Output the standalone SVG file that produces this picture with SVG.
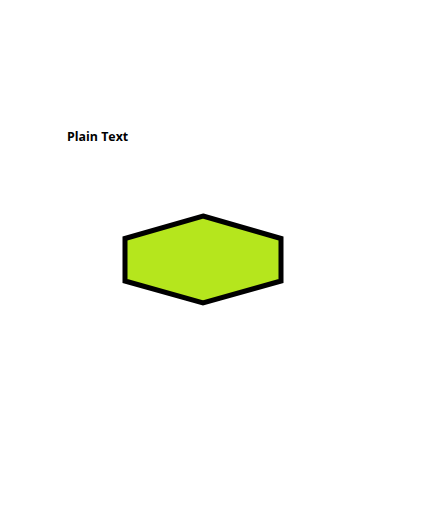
<svg xmlns="http://www.w3.org/2000/svg" width="440" height="510" viewBox="0 0 440 510">
<style>
.lbl{font-family:"Open Sans","Liberation Sans",sans-serif;font-weight:bold;font-size:12.4px;fill:#000}
.hex{fill:#b5e61d;stroke:#000;stroke-width:5;stroke-linejoin:miter}
</style>
<rect width="440" height="510" fill="#fff"/>
<g id="label"><text class="lbl" x="67" y="141">Plain Text</text></g>
<g id="hexagon"><polygon class="hex" points="203,216 281,238.5 281,281 203,303 125,281 125,238.5"/></g>
<g id="connectors"></g>
</svg>
